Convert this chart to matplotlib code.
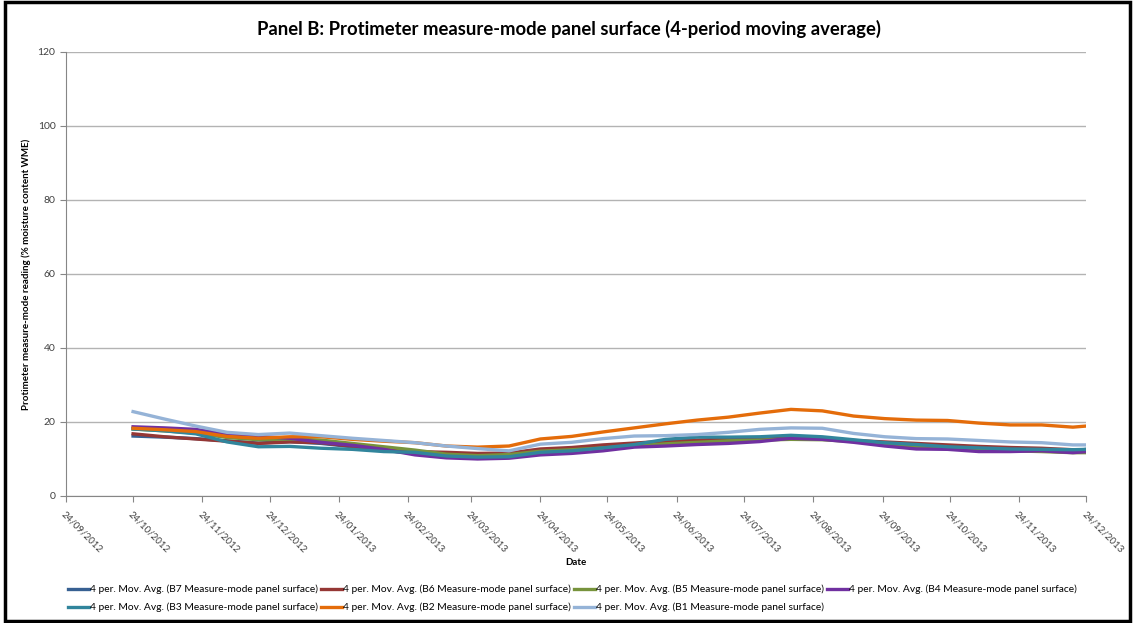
import datetime

import matplotlib
matplotlib.use('Agg')
import matplotlib.pyplot as plt
import matplotlib.dates as mdates
from matplotlib.patches import Rectangle

plt.rcParams['font.family'] = ['Lato', 'DejaVu Sans']

# sample dates (roughly fortnightly readings)
dates = ['2012-10-24', '2012-11-07', '2012-11-21', '2012-12-05', '2012-12-19',
         '2013-01-02', '2013-01-16', '2013-01-30', '2013-02-13', '2013-02-27',
         '2013-03-13', '2013-03-27', '2013-04-10', '2013-04-24', '2013-05-08',
         '2013-05-22', '2013-06-05', '2013-06-19', '2013-07-03', '2013-07-17',
         '2013-07-31', '2013-08-14', '2013-08-28', '2013-09-11', '2013-09-25',
         '2013-10-09', '2013-10-23', '2013-11-06', '2013-11-20', '2013-12-04',
         '2013-12-18', '2013-12-24']

b7 = [16.2, 15.9, 15.5, 14.9, 14.3, 14.7, 14.2, 13.3, 12.3, 11.5, 11.2, 10.8, 11.0, 12.0, 12.4, 13.2,
      14.0, 14.5, 14.8, 15.0, 15.3, 15.6, 15.4, 14.8, 14.2, 13.6, 13.3, 12.8, 12.5, 12.4, 12.2, 12.6]
b6 = [16.8, 16.0, 15.4, 14.8, 14.2, 14.6, 14.4, 13.4, 12.6, 12.0, 11.8, 11.5, 11.6, 12.7, 13.1, 13.8,
      14.3, 14.8, 15.1, 15.4, 15.5, 15.7, 15.5, 15.0, 14.6, 14.2, 13.8, 13.4, 13.1, 12.9, 12.5, 12.4]
b5 = [18.1, 17.6, 17.0, 15.8, 15.2, 15.4, 15.1, 14.2, 13.3, 12.4, 11.3, 10.9, 11.2, 12.1, 12.5, 13.0,
      13.5, 14.1, 14.5, 14.9, 15.1, 15.3, 15.2, 14.7, 13.9, 13.3, 13.0, 12.4, 12.2, 12.0, 11.7, 11.7]
b4 = [18.7, 18.4, 18.0, 16.7, 16.1, 15.6, 14.5, 13.7, 12.6, 11.1, 10.3, 10.0, 10.2, 11.1, 11.5, 12.2,
      13.2, 13.5, 13.9, 14.2, 14.7, 15.6, 15.3, 14.5, 13.5, 12.7, 12.6, 12.0, 12.0, 12.2, 11.7, 12.0]
b3 = [18.1, 17.6, 16.8, 14.6, 13.3, 13.4, 12.9, 12.6, 12.0, 11.8, 10.8, 10.5, 10.6, 11.8, 12.2, 13.0,
      13.9, 15.3, 15.9, 15.9, 16.0, 16.4, 16.0, 15.2, 14.4, 13.9, 13.3, 13.0, 12.7, 12.6, 12.5, 12.6]
b2 = [18.3, 17.9, 17.4, 16.1, 15.6, 16.0, 16.0, 15.3, 14.8, 14.4, 13.5, 13.2, 13.5, 15.4, 16.1, 17.3,
      18.4, 19.5, 20.5, 21.3, 22.4, 23.4, 23.0, 21.6, 20.9, 20.5, 20.4, 19.7, 19.2, 19.2, 18.6, 18.9]
b1 = [22.8, 20.8, 18.9, 17.2, 16.6, 17.0, 16.3, 15.6, 15.0, 14.4, 13.5, 12.8, 12.2, 14.0, 14.5, 15.5,
      16.2, 16.3, 16.6, 17.2, 18.0, 18.4, 18.3, 16.9, 16.0, 15.5, 15.4, 15.0, 14.6, 14.4, 13.8, 13.8]

x = [datetime.datetime.strptime(d, '%Y-%m-%d') for d in dates]

series = [
    ('B7', b7, '#376092'),
    ('B6', b6, '#953735'),
    ('B5', b5, '#77933C'),
    ('B4', b4, '#7030A0'),
    ('B3', b3, '#31859C'),
    ('B2', b2, '#E46C0A'),
    ('B1', b1, '#95B3D7'),
]

fig = plt.figure(figsize=(11.35, 6.23), dpi=100)
ax = fig.add_axes([0.0581, 0.2039, 0.899, 0.7127])

handles = {}
for name, vals, col in series:
    ln, = ax.plot(x, vals, color=col, lw=2.4, solid_joinstyle='round',
                  label=f'4 per. Mov. Avg. ({name} Measure-mode panel surface)')
    handles[name] = ln

ax.set_ylim(0, 120)
ax.set_yticks(range(0, 121, 20))
ax.yaxis.grid(True, color='#B3B3B3', lw=1)
ax.set_axisbelow(True)

ticks = [datetime.datetime(2012, 9, 24)]
for m in range(10, 13):
    ticks.append(datetime.datetime(2012, m, 24))
for m in range(1, 13):
    ticks.append(datetime.datetime(2013, m, 24))
ax.set_xlim(ticks[0], ticks[-1])
ax.set_xticks(ticks)
ax.xaxis.set_major_formatter(mdates.DateFormatter('%d/%m/%Y'))
for lab in ax.get_xticklabels():
    lab.set_rotation(-45)
    lab.set_ha('left')
    lab.set_va('top')
    lab.set_rotation_mode('anchor')
ax.tick_params(axis='x', labelsize=7, colors='#404040', length=4, color='#868686', pad=6)
ax.tick_params(axis='y', labelsize=7.5, colors='#404040', length=4, color='#868686')

for s in ['top', 'right']:
    ax.spines[s].set_visible(False)
for s in ['left', 'bottom']:
    ax.spines[s].set_color('#868686')

ax.set_xlabel('Date', fontsize=7, fontweight='bold', labelpad=2)
ax.set_ylabel('Protimeter measure-mode reading (% moisture content WME)', fontsize=7,
              fontweight='bold', labelpad=5)
ax.set_title('Panel B: Protimeter measure-mode panel surface (4-period moving average)',
             fontsize=13.3, fontweight='bold', pad=12, x=0.493)

order = ['B7', 'B3', 'B6', 'B2', 'B5', 'B1', 'B4']
fig.legend([handles[k] for k in order], [handles[k].get_label() for k in order],
           loc='upper left', bbox_to_anchor=(0.056, 0.068), ncol=4, frameon=False,
           fontsize=7.35, handlelength=2.1, handletextpad=0.1, columnspacing=0.25,
           labelspacing=0.85, borderaxespad=0)

fig.patches.append(Rectangle((0.004, 0.004), 0.992, 0.992, transform=fig.transFigure,
                             fill=False, edgecolor='black', lw=2.5))

fig.savefig('out.png', dpi=100)
